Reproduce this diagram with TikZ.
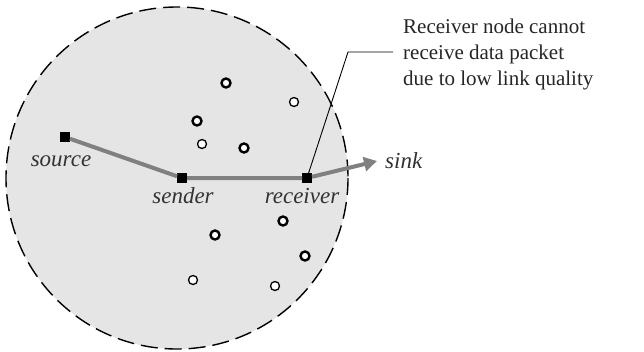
\documentclass[tikz,border=0pt]{standalone}
\usepackage{fontspec}
\setmainfont{Liberation Serif}
\usetikzlibrary{arrows.meta}
\begin{document}
\begin{tikzpicture}[x=1pt,y=-1pt,
  sq/.style={fill=black,minimum size=10pt,inner sep=0pt,outer sep=0pt},
  thickring/.style={circle,draw=black,line width=2.4pt,fill=white,minimum size=9pt,inner sep=0pt},
  thinring/.style={circle,draw=black,line width=1.3pt,fill=white,minimum size=9pt,inner sep=0pt},
  lbl/.style={font=\fontsize{23}{23}\selectfont\itshape,text=black!80,inner sep=0pt,anchor=base},
  route/.style={draw=black!50,line width=4pt},
  note/.style={font=\fontsize{21}{26}\selectfont,text=black!85,align=left,inner sep=0pt,anchor=north west}]
\useasboundingbox (0,0) rectangle (644,351);
\fill[black!10] (177,178) circle[radius=171];
\draw[dashed,dash pattern=on 17pt off 7pt,line width=1.4pt] (177,178) circle[radius=171];
% rings
\node[thickring] (r1) at (226,83) {};
\node[thinring] (r2) at (294,102) {};
\node[thickring] (r3) at (197,121) {};
\node[thinring] (r4) at (202,144) {};
\node[thickring] (r5) at (244,148) {};
\node[thickring] (r6) at (283,221) {};
\node[thickring] (r7) at (215,235) {};
\node[thickring] (r8) at (305,256) {};
\node[thinring] (r9) at (193,280) {};
\node[thinring] (r10) at (275,286) {};
% route nodes
\node[sq] (src) at (65,137) {};
\node[sq] (snd) at (182,178) {};
\node[sq] (rcv) at (307,178) {};
\coordinate (sinkpt) at (377,161);
\draw[route] (src) -- (snd) -- (rcv);
\draw[route,-{Triangle[length=13pt,width=14pt]}] (rcv) -- (sinkpt);
% labels
\node[lbl] (lsrc) at (61,166) {source};
\node[lbl] (lsnd) at (183,203) {sender};
\node[lbl] (lrcv) at (302,203) {receiver};
\node[lbl,anchor=base west] (lsink) at (385,168) {sink};
% note
\node[note] (txt) at (403,19) {Receiver node cannot\\receive data packet\\due to low link quality};
\coordinate (bend) at (348,52);
\coordinate (lend) at (393,52);
\draw[line width=0.9pt] (rcv.center) -- (bend) -- (lend);
\end{tikzpicture}
\end{document}
